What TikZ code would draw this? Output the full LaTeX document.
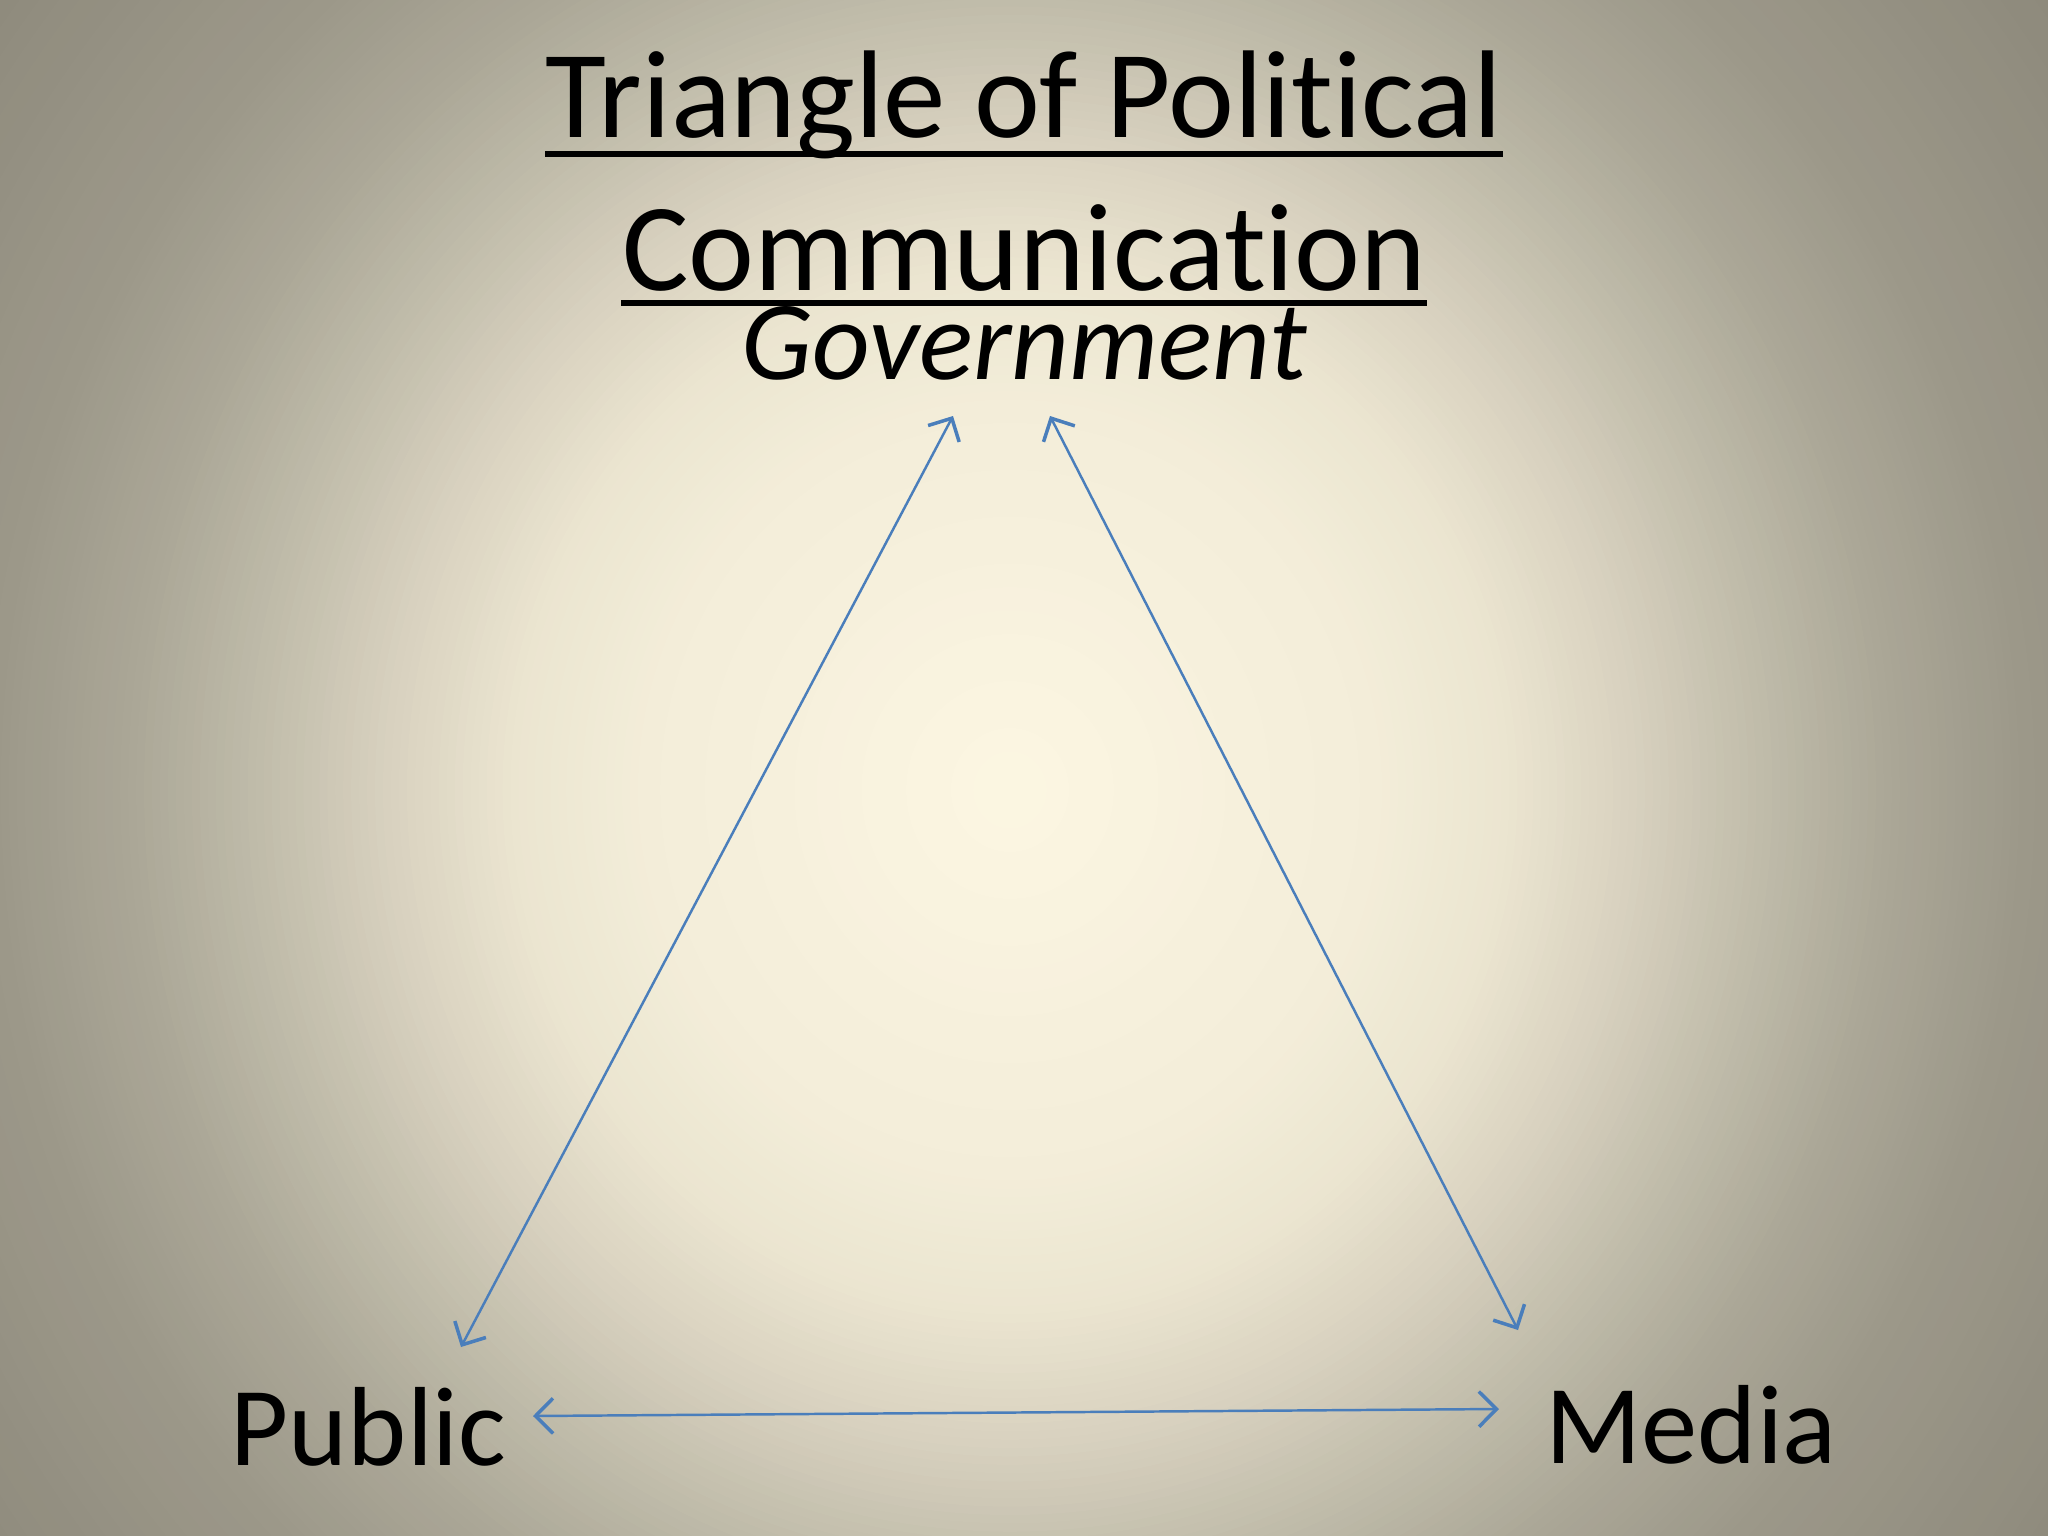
\documentclass[tikz,border=0pt]{standalone}
\usepackage{fontspec}
\setmainfont[Ligatures=NoCommon]{Carlito}
\usetikzlibrary{arrows.meta}

\definecolor{glowA}{HTML}{FCF6E2}
\definecolor{glowB}{HTML}{F3EDD9}
\definecolor{glowC}{HTML}{EBE5D0}
\definecolor{glowD}{HTML}{D8D1BF}
\definecolor{glowE}{HTML}{C0BCAA}
\definecolor{glowF}{HTML}{ABA797}
\definecolor{glowG}{HTML}{9D998A}
\definecolor{glowH}{HTML}{8F8B7D}
\definecolor{glowI}{HTML}{8A8679}
\definecolor{linkblue}{HTML}{4A7EBB}

\tikzset{
  titletext/.style={font=\fontsize{35.5}{40}\selectfont, inner sep=0pt, anchor=base},
  cornertext/.style={font=\fontsize{32}{37}\selectfont, inner sep=0pt},
  underbar/.style={line width=1.5pt},
  link/.style={draw=linkblue, line width=0.7pt,
    {Straight Barb[length=5pt,width=10pt,line width=1pt]}-{Straight Barb[length=5pt,width=10pt,line width=1pt]}},
}

\begin{document}
\begin{tikzpicture}[x=0.01cm, y=-0.01cm]
        \useasboundingbox (0,0) rectangle (2048,1536);
        \clip (0,0) rectangle (2048,1536);

        % background glow
        \fill[glowI] (0,0) rectangle (2048,1536);
        \foreach \ro/\ri/\co/\ci in {1/0.87/glowI/glowH, 0.87/0.697/glowH/glowG,
            0.697/0.609/glowG/glowF, 0.609/0.521/glowF/glowE,
            0.521/0.433/glowE/glowD, 0.433/0.345/glowD/glowC,
            0.345/0.257/glowC/glowB, 0.257/0.01/glowB/glowA}{
          \foreach \i in {0,...,15}{
            \pgfmathsetmacro{\rr}{\ro-(\ro-\ri)*\i/16}
            \pgfmathsetmacro{\mx}{100*\i/16}
            \fill[\ci!\mx!\co] (1010,790) ellipse [x radius=1448*\rr, y radius=1520*\rr];
          }
        }

        % title
        \node[titletext] (title1) at (1024, 137) {Triangle of Political};
        \node[titletext] (title2) at (1024, 290) {Communication};
        \draw[underbar] (title1.west |- 0,154) -- (title1.east |- 0,154);
        \draw[underbar] (title2.west |- 0,303) -- (title2.east |- 0,303);

        % corners
        \node[cornertext, anchor=base] (gov) at (1024, 379) {\itshape Government};
        \node[cornertext, anchor=base west] (pub) at (230, 1465) {Public};
        \node[cornertext, anchor=base west] (med) at (1545, 1463) {Media};

        \coordinate (govL) at (953, 416);
        \coordinate (govR) at (1050, 416);
        \coordinate (pubT) at (461, 1347);
        \coordinate (pubR) at (533, 1416);
        \coordinate (medT) at (1518, 1330);
        \coordinate (medL) at (1499, 1409);

        \draw[link] (govL) -- (pubT);
        \draw[link] (govR) -- (medT);
        \draw[link] (pubR) -- (medL);
\end{tikzpicture}
\end{document}
